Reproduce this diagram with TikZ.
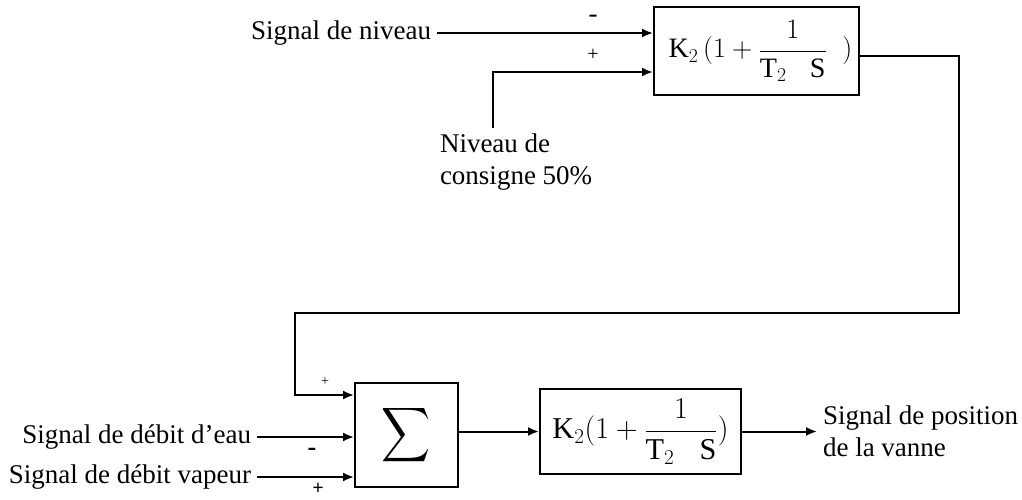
\RequirePackage{fix-cm}
\documentclass[tikz,border=0pt]{standalone}
\usepackage{fontspec}
\setmainfont{Liberation Serif}
\usetikzlibrary{calc,arrows.meta}

\begin{document}
\begin{tikzpicture}[x=1pt,y=-1pt,line width=2pt,font=\fontsize{27}{32}\selectfont,
  bloc/.style={draw,inner sep=0pt},
  lbl/.style={inner sep=5pt},
  signe/.style={inner sep=0pt},
  >={Latex[length=11pt,width=9pt]}]
\useasboundingbox (0,0) rectangle (1022,499);
\def\XD{959}\def\YB{313}\def\XG{295}
% blocs
\node[bloc,minimum width=205pt,minimum height=88pt] (pi1) at (756.5,51)
  {\hspace{8pt}\scalebox{1.04}{$\displaystyle\mathrm{K}_2\,(1+\frac{1}{\mathrm{T}_2\;\;\;\mathrm{S}}\;\;)$}};
\node[bloc,minimum width=103pt,minimum height=104pt] (som) at (406.5,435)
  {\scalebox{3.4}[3.8]{$\displaystyle\sum$}};
\node[bloc,minimum width=201pt,minimum height=85pt] (pi2) at (640.5,431.5)
  {\scalebox{1.12}{$\displaystyle\mathrm{K}_2(1+\frac{1}{\mathrm{T}_2\;\;\;\mathrm{S}})$}};
% textes
\node[lbl,anchor=east] (niv) at (437,33) {Signal de niveau};
\node[lbl,anchor=north west,align=left] (cons) at (434,128) {Niveau de\\consigne 50\%};
\node[lbl,anchor=east] (eau) at (257,437) {Signal de débit d'eau};
\node[lbl,anchor=east] (vap) at (257,477) {Signal de débit vapeur};
\node[lbl,anchor=west,align=left] (pos) at (817,431.5) {Signal de position\\de la vanne};
% signes
\node[signe] (m1) at (593,19) {-};
\node[signe,font=\fontsize{20}{20}\selectfont] (p1) at (593,55) {+};
\node[signe,font=\fontsize{14}{14}\selectfont] (p2) at (325,382) {+};
\node[signe,font=\bfseries\fontsize{26}{26}\selectfont] (m2) at (312,452) {-};
\node[signe,font=\bfseries\fontsize{20}{20}\selectfont] (p3) at (318,489) {+};
% liaisons
\draw[->] (niv.east) -- ($(pi1.west)+(0,-18)$);
\draw[->] ($(cons.north west)+(59,0)$) |- ($(pi1.west)+(0,21)$);
\draw[->] ($(pi1.east)+(0,5)$) -| (\XD,\YB) -| (\XG,395) -- ($(som.west)+(0,-40)$);
\draw[->] (eau.east) -- (som.west |- eau.east);
\draw[->] (vap.east) -- (som.west |- vap.east);
\draw[->] (som.east |- pi2.west) -- (pi2.west);
\draw[->] (pi2.east) -- (pos.west);
\end{tikzpicture}
\end{document}
